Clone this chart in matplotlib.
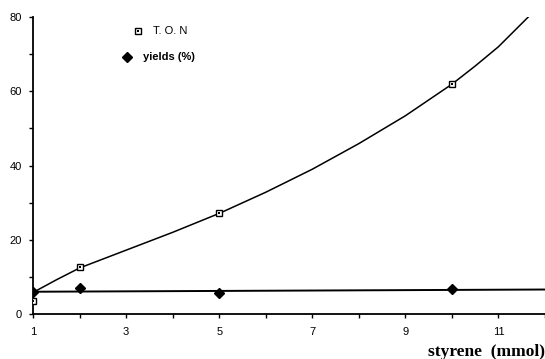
import matplotlib
matplotlib.use("Agg")
import matplotlib.pyplot as plt
import matplotlib.ticker as ticker

# measured points
styrene = [1, 2, 5, 10]
ton = [3.6, 12.7, 27.1, 61.9]
yields = [5.8, 7.1, 5.6, 6.7]

# hand-drawn fit curves
ton_fit_x = [1.0, 1.5, 2.0, 3.0, 4.0, 5.0, 6.0, 7.0, 8.0, 9.0, 10.0, 10.5, 11.0, 11.64]
ton_fit_y = [5.8, 9.2, 12.4, 17.2, 22.0, 27.1, 32.8, 39.0, 45.9, 53.4, 61.9, 66.8, 72.0, 80.0]
yield_fit_x = [1.0, 12.0]
yield_fit_y = [6.0, 6.6]

x_ticks = [1, 3, 5, 7, 9, 11]
y_ticks = [0, 20, 40, 60, 80]

plt.rcParams["font.family"] = ["Liberation Sans", "DejaVu Sans"]

fig = plt.figure(figsize=(5.45, 3.59), dpi=100)
ax = fig.add_axes([0.0606, 0.1253, 0.9394, 0.8273])

ax.plot(ton_fit_x, ton_fit_y, color="black", lw=1.1, zorder=2)
ax.plot(yield_fit_x, yield_fit_y, color="black", lw=1.4, zorder=2)

ax.plot(styrene, ton, ls="none", marker="s", ms=5, mfc="white", mec="black", mew=1.0, zorder=3)
ax.plot(styrene, ton, ls="none", marker="s", ms=1.5, mfc="black", mec="black", mew=0, zorder=4)
ax.plot(styrene, yields, ls="none", marker="D", ms=5, mfc="black", mec="black", zorder=3)

ax.set_xlim(1, 12)
ax.set_ylim(0, 80)
ax.xaxis.set_major_locator(ticker.FixedLocator(x_ticks))
ax.xaxis.set_minor_locator(ticker.MultipleLocator(1))
ax.yaxis.set_major_locator(ticker.FixedLocator(y_ticks))
ax.yaxis.set_minor_locator(ticker.MultipleLocator(10))
ax.tick_params(which="both", direction="out", length=3, width=1, labelsize=8)
ax.tick_params(axis="x", pad=6.5)
ax.tick_params(axis="y", pad=5)

for s in ["top", "right"]:
    ax.spines[s].set_visible(False)
for s in ["left", "bottom"]:
    ax.spines[s].set_linewidth(1.3)

ax.set_xlabel("styrene  (mmol)", fontsize=12.5, fontweight="bold",
              family="Liberation Serif", loc="right", labelpad=5)

# legend drawn by hand like the original
ax.plot([0.2534], [0.9136], transform=fig.transFigure, ls="none", marker="s", ms=5,
        mfc="white", mec="black", mew=1.0, clip_on=False)
ax.plot([0.2534], [0.9136], transform=fig.transFigure, ls="none", marker="s", ms=1.5,
        mfc="black", mew=0, clip_on=False)
fig.text(0.281, 0.9136, "T. O. N", fontsize=8, va="center", ha="left")
ax.plot([0.233], [0.841], transform=fig.transFigure, ls="none", marker="D", ms=5,
        mfc="black", mec="black", clip_on=False)
fig.text(0.262, 0.841, "yields (%)", fontsize=8, fontweight="bold", va="center", ha="left")

fig.savefig("out.png", dpi=100)
